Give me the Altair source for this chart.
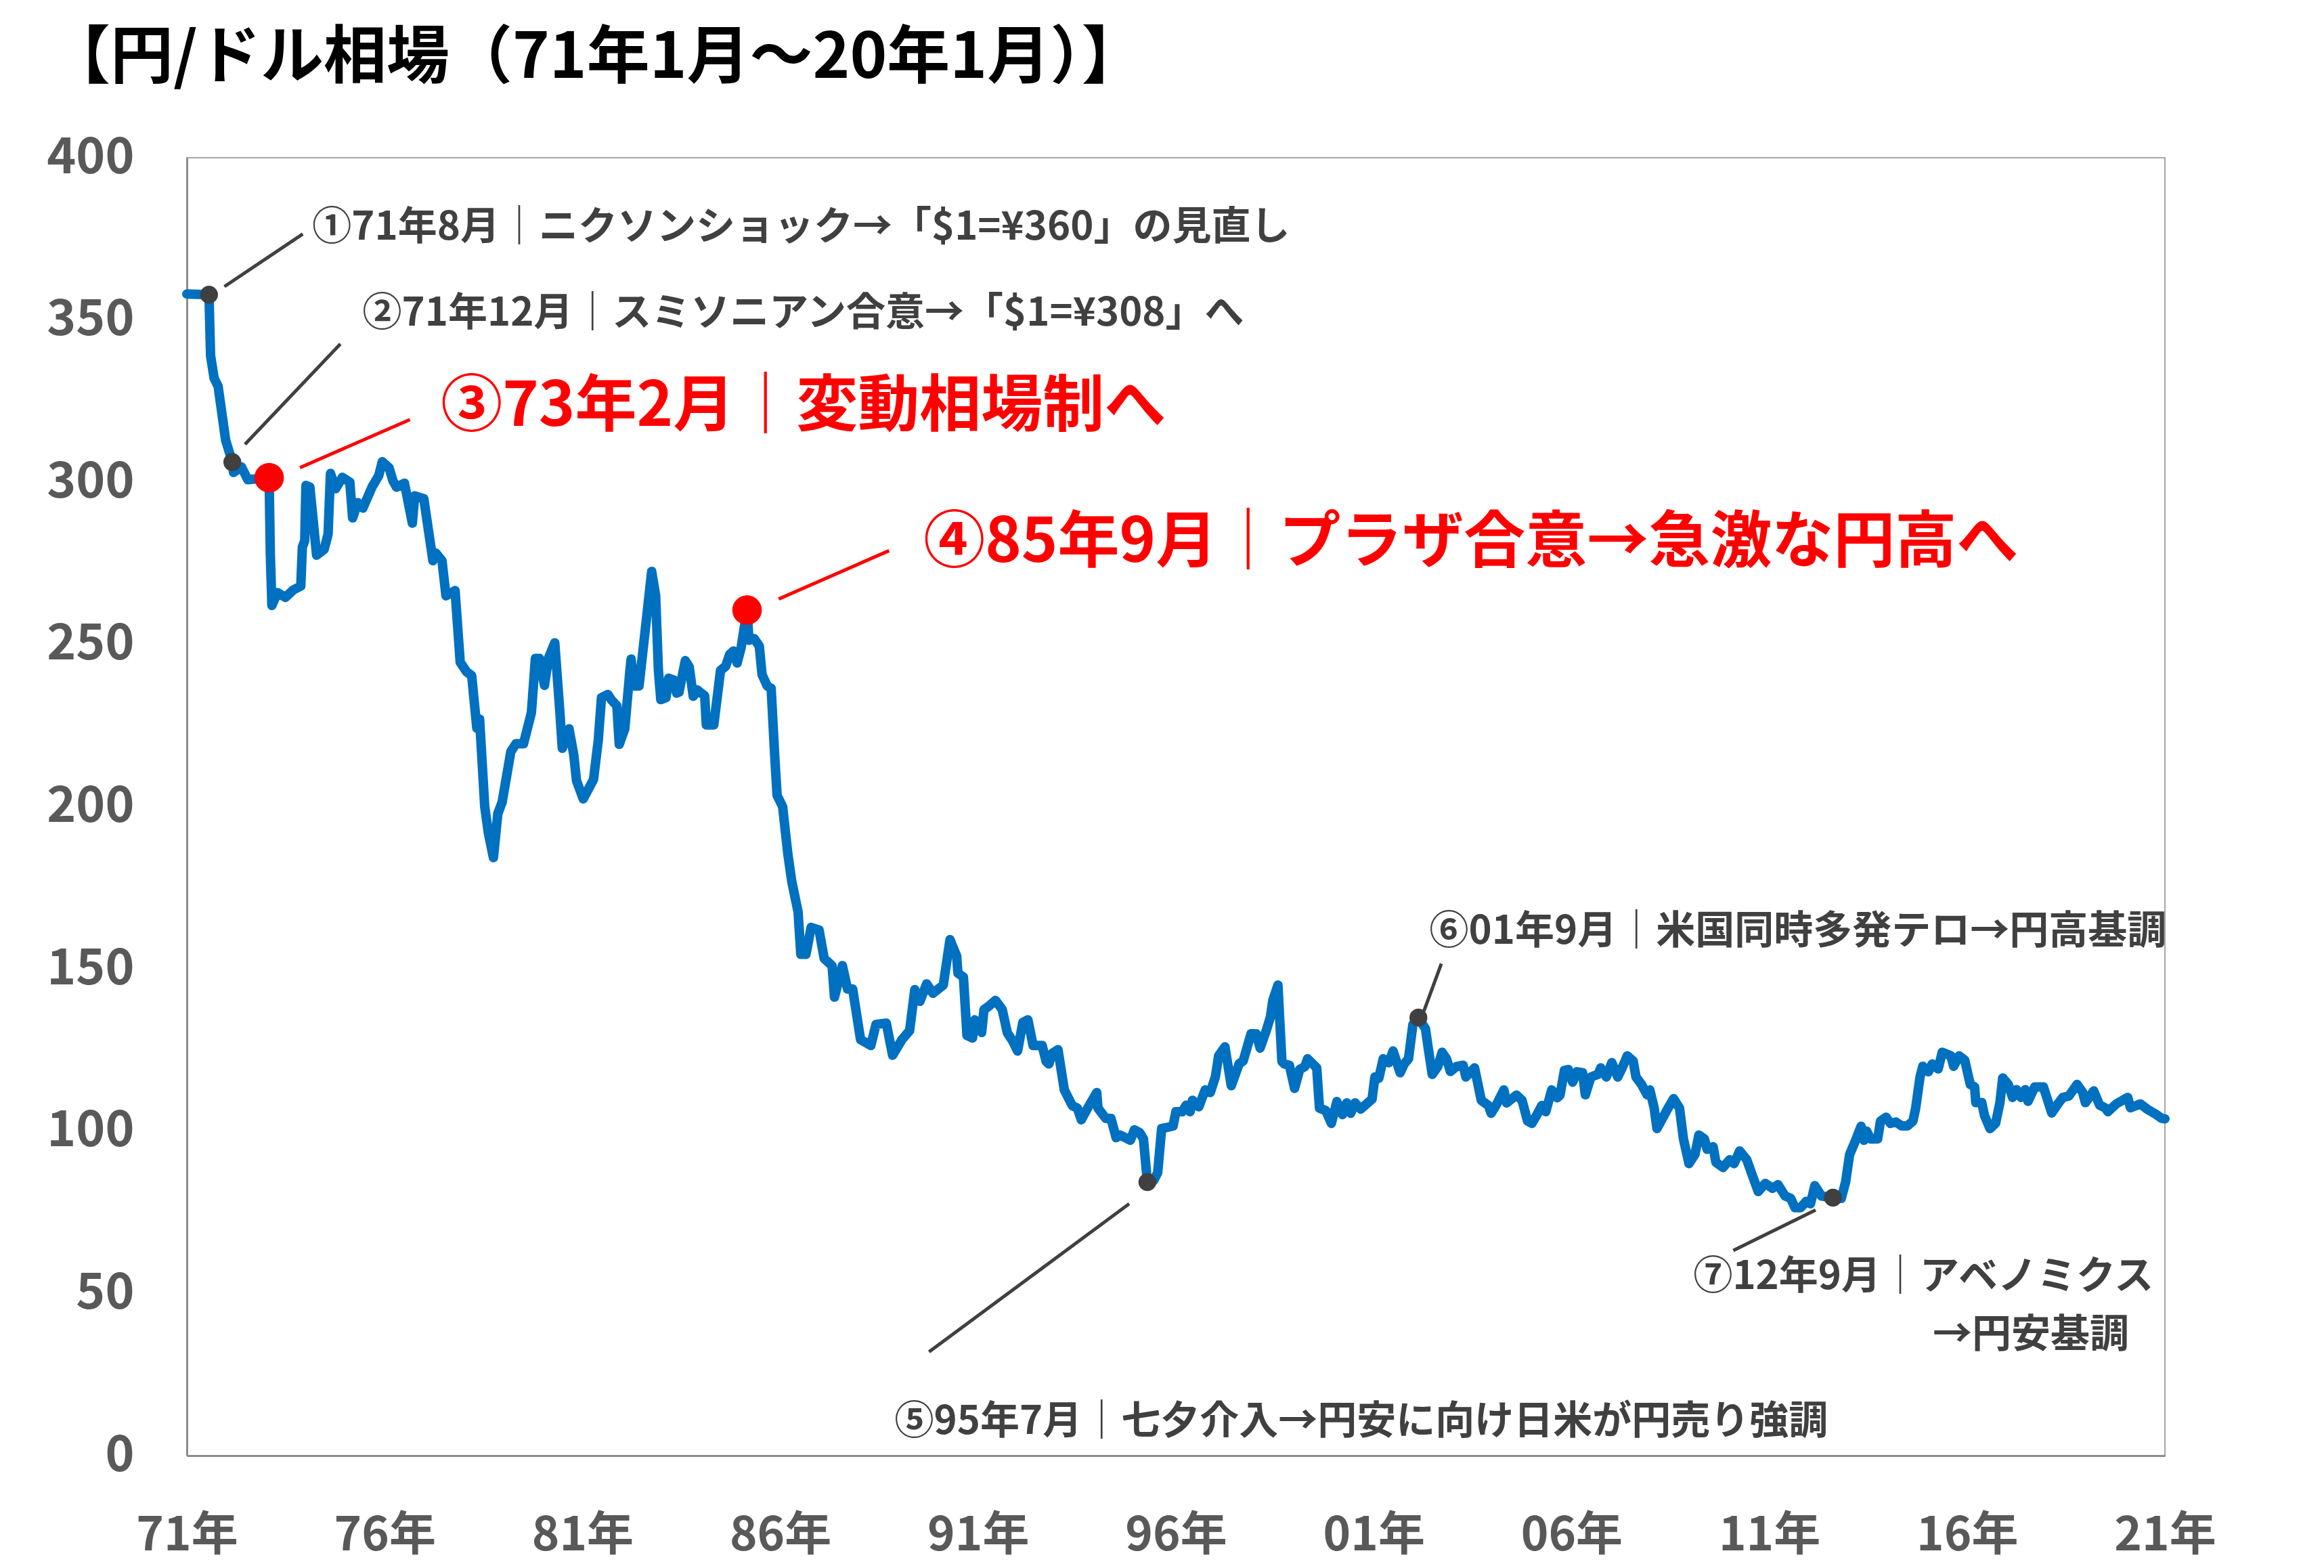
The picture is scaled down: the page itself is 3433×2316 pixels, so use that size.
import altair as alt
import pandas as pd

# ---- monthly-ish USD/JPY values ----
years = [
    1971.00, 1971.56, 1971.60, 1971.69, 1971.79, 1971.98, 1972.15, 1972.18, 1972.38, 1972.54,
    1973.08, 1973.11, 1973.15, 1973.29, 1973.49, 1973.69, 1973.88, 1973.92, 1973.98, 1974.01,
    1974.11, 1974.28, 1974.47, 1974.57, 1974.63, 1974.76, 1974.93, 1975.12, 1975.19, 1975.32,
    1975.45, 1975.68, 1975.85, 1975.94, 1976.11, 1976.21, 1976.30, 1976.50, 1976.70, 1976.76,
    1976.99, 1977.22, 1977.29, 1977.45, 1977.55, 1977.78, 1977.91, 1978.07, 1978.20, 1978.33,
    1978.40, 1978.53, 1978.62, 1978.75, 1978.86, 1978.97, 1979.19, 1979.32, 1979.51, 1979.71,
    1979.81, 1979.91, 1980.04, 1980.14, 1980.30, 1980.43, 1980.49, 1980.66, 1980.78, 1980.85,
    1981.02, 1981.28, 1981.40, 1981.48, 1981.64, 1981.74, 1981.87, 1981.93, 1982.07, 1982.20,
    1982.23, 1982.30, 1982.43, 1982.56, 1982.75, 1982.85, 1982.92, 1982.98, 1983.11, 1983.18,
    1983.31, 1983.38, 1983.44, 1983.60, 1983.70, 1983.80, 1983.90, 1984.00, 1984.09, 1984.13,
    1984.32, 1984.49, 1984.62, 1984.72, 1984.82, 1984.91, 1985.01, 1985.16, 1985.21, 1985.34,
    1985.47, 1985.54, 1985.67, 1985.77, 1985.86, 1985.92, 1986.06, 1986.19, 1986.29, 1986.45,
    1986.52, 1986.65, 1986.78, 1986.98, 1987.11, 1987.31, 1987.37, 1987.57, 1987.70, 1987.83,
    1988.03, 1988.29, 1988.42, 1988.68, 1988.84, 1989.07, 1989.27, 1989.40, 1989.53, 1989.70,
    1989.86, 1990.12, 1990.29, 1990.46, 1990.49, 1990.63, 1990.72, 1990.86, 1990.92, 1991.09,
    1991.15, 1991.25, 1991.44, 1991.61, 1991.74, 1991.87, 1992.00, 1992.13, 1992.26, 1992.39,
    1992.62, 1992.72, 1992.79, 1992.88, 1993.02, 1993.18, 1993.38, 1993.51, 1993.61, 1993.77,
    1994.00, 1994.03, 1994.23, 1994.36, 1994.49, 1994.59, 1994.85, 1994.95, 1995.08, 1995.18,
    1995.28, 1995.44, 1995.54, 1995.64, 1995.80, 1995.93, 1996.00, 1996.16, 1996.26, 1996.36,
    1996.42, 1996.58, 1996.74, 1996.87, 1997.00, 1997.08, 1997.24, 1997.40, 1997.60, 1997.70,
    1997.90, 1998.03, 1998.13, 1998.29, 1998.39, 1998.45, 1998.58, 1998.68, 1998.74, 1998.87,
    1999.00, 1999.13, 1999.26, 1999.33, 1999.56, 1999.63, 1999.79, 1999.93, 2000.07, 2000.21,
    2000.32, 2000.42, 2000.53, 2000.67, 2000.85, 2000.96, 2001.03, 2001.13, 2001.24, 2001.38,
    2001.49, 2001.67, 2001.77, 2001.88, 2001.99, 2002.13, 2002.31, 2002.38, 2002.48, 2002.62,
    2002.73, 2002.84, 2002.94, 2003.09, 2003.26, 2003.33, 2003.55, 2003.72, 2003.90, 2003.97,
    2004.11, 2004.29, 2004.36, 2004.61, 2004.75, 2004.89, 2005.00, 2005.11, 2005.25, 2005.35,
    2005.50, 2005.64, 2005.71, 2005.82, 2005.92, 2006.03, 2006.14, 2006.28, 2006.35, 2006.49,
    2006.67, 2006.74, 2006.88, 2007.02, 2007.17, 2007.27, 2007.41, 2007.56, 2007.63, 2007.77,
    2007.91, 2007.98, 2008.09, 2008.16, 2008.37, 2008.44, 2008.58, 2008.73, 2008.83, 2008.97,
    2009.12, 2009.22, 2009.36, 2009.43, 2009.58, 2009.65, 2009.83, 2010.00, 2010.11, 2010.25,
    2010.43, 2010.57, 2010.72, 2010.90, 2011.08, 2011.22, 2011.40, 2011.54, 2011.65, 2011.79,
    2011.93, 2012.04, 2012.15, 2012.32, 2012.61, 2012.82, 2012.93, 2013.03, 2013.17, 2013.32,
    2013.39, 2013.46, 2013.56, 2013.74, 2013.81, 2013.95, 2014.06, 2014.20, 2014.35, 2014.49,
    2014.63, 2014.70, 2014.81, 2014.88, 2015.02, 2015.12, 2015.27, 2015.37, 2015.59, 2015.66,
    2015.80, 2015.94, 2016.08, 2016.19, 2016.22, 2016.37, 2016.44, 2016.58, 2016.72, 2016.83,
    2016.90, 2017.04, 2017.15, 2017.25, 2017.36, 2017.47, 2017.54, 2017.71, 2017.93, 2018.14,
    2018.32, 2018.42, 2018.57, 2018.78, 2018.92, 2018.99, 2019.20, 2019.35, 2019.49, 2019.56,
    2019.77, 2020.06, 2020.13, 2020.38, 2020.55, 2020.77, 2020.91, 2021.00,
]
rates = [
    358.0, 357.8, 339.0, 332.0, 329.6, 313.0, 306.2, 303.0, 304.7, 300.8,
    301.4, 278.0, 262.0, 266.0, 264.5, 266.8, 268.0, 280.0, 282.0, 299.0,
    298.5, 277.5, 279.3, 284.0, 302.7, 298.0, 301.5, 300.0, 289.0, 293.7,
    292.0, 298.5, 302.0, 306.3, 304.5, 300.4, 298.5, 299.7, 287.4, 295.8,
    294.9, 275.8, 278.2, 275.8, 265.0, 266.6, 244.5, 241.6, 240.4, 224.2,
    227.0, 200.0, 192.0, 184.3, 197.8, 201.4, 217.0, 219.4, 219.4, 229.0,
    245.7, 245.7, 237.4, 245.7, 250.5, 229.0, 218.0, 224.0, 216.0, 208.0,
    202.4, 208.4, 220.5, 233.6, 234.6, 232.8, 231.1, 219.2, 224.0, 242.0,
    245.5, 237.2, 237.2, 251.5, 272.5, 265.0, 242.0, 233.0, 233.6, 239.6,
    239.0, 235.0, 235.3, 245.0, 243.0, 234.0, 236.0, 235.0, 234.2, 225.2,
    225.2, 242.0, 243.3, 246.9, 248.0, 244.3, 249.0, 260.6, 251.3, 251.8,
    249.5, 240.7, 237.2, 236.5, 215.6, 203.5, 200.0, 185.6, 177.0, 167.6,
    154.5, 154.5, 162.8, 162.0, 153.2, 151.0, 141.3, 151.0, 143.8, 143.8,
    128.2, 126.4, 132.9, 133.3, 123.4, 128.1, 131.0, 143.6, 140.0, 145.4,
    142.5, 145.0, 159.0, 153.9, 148.7, 147.5, 129.5, 128.7, 134.3, 130.4,
    137.5, 138.3, 140.3, 137.5, 130.3, 127.9, 124.7, 133.5, 134.3, 126.4,
    126.4, 121.5, 120.7, 124.0, 125.1, 112.7, 107.9, 107.1, 103.5, 107.1,
    111.9, 107.1, 103.9, 103.9, 98.0, 98.8, 97.2, 100.4, 99.6, 97.6,
    84.3, 84.8, 87.2, 100.8, 101.2, 101.6, 106.0, 106.0, 108.0, 106.0,
    109.5, 107.5, 112.7, 111.9, 116.8, 123.2, 126.0, 114.0, 120.8, 121.6,
    130.0, 130.0, 125.6, 131.2, 135.2, 140.3, 145.0, 121.5, 120.7, 120.3,
    113.2, 119.0, 119.9, 122.3, 119.5, 107.1, 106.3, 102.4, 109.1, 105.1,
    108.7, 105.5, 108.7, 106.8, 108.7, 109.9, 116.7, 116.3, 122.3, 121.1,
    124.7, 118.0, 120.7, 122.3, 132.8, 135.0, 131.5, 125.5, 117.5, 119.9,
    124.3, 122.3, 118.4, 119.9, 120.3, 116.7, 119.5, 109.5, 107.9, 105.5,
    108.3, 112.7, 108.7, 111.1, 109.5, 103.1, 102.4, 104.7, 107.9, 106.0,
    112.7, 110.3, 111.1, 118.7, 119.0, 115.1, 118.3, 118.0, 111.2, 116.7,
    117.5, 119.5, 116.7, 121.1, 116.7, 119.2, 123.2, 121.6, 116.7, 114.4,
    111.2, 112.7, 107.1, 100.8, 105.5, 107.1, 110.0, 107.1, 97.6, 90.0,
    92.8, 98.8, 97.6, 94.4, 95.2, 90.4, 88.8, 91.2, 90.0, 93.9,
    91.2, 86.4, 81.4, 83.9, 82.4, 83.5, 80.0, 79.3, 76.4, 76.4,
    78.3, 77.6, 83.2, 80.0, 79.5, 79.3, 84.4, 92.8, 96.8, 101.5,
    97.2, 100.0, 97.6, 97.6, 103.1, 104.3, 102.4, 102.8, 101.6, 101.6,
    103.1, 107.1, 116.7, 120.0, 118.3, 120.7, 119.2, 124.3, 123.2, 120.0,
    123.2, 121.9, 114.4, 113.6, 108.8, 108.8, 104.8, 100.8, 102.4, 108.8,
    116.4, 114.4, 110.4, 112.8, 110.4, 112.8, 109.2, 113.6, 113.6, 105.6,
    108.8, 110.4, 110.8, 114.4, 112.0, 108.8, 112.4, 108.0, 107.2, 106.0,
    108.4, 110.4, 107.2, 108.4, 106.8, 105.2, 104.0, 103.8,
]

# ---- annotated events ----
ev_years = [1971.56, 1972.15, 1973.08, 1985.16, 1995.28, 2002.13, 2012.61]
ev_rates = [357.8, 306.2, 301.4, 260.6, 84.3, 135.0, 79.5]
ev_kind = ["gray", "gray", "red", "red", "gray", "gray", "gray"]

# leader lines (start/end in data units)
lead_x1 = [1971.95, 1972.47, 1973.86, 1985.96, 1989.76, 2002.27, 2010.09]
lead_y1 = [360.3, 311.7, 304.5, 264.0, 32.0, 137.0, 63.2]
lead_x2 = [1973.93, 1974.88, 1976.64, 1988.75, 1994.82, 2002.71, 2012.17]
lead_y2 = [376.5, 342.6, 319.3, 278.9, 77.6, 151.6, 75.7]
lead_kind = ["gray", "gray", "red", "red", "gray", "gray", "gray"]

# labels
gray_labels = [
    "①71年8月｜ニクソンショック→「$1=¥360」の見直し",
    "②71年12月｜スミソニアン合意→「$1=¥308」へ",
    "⑤95年7月｜七夕介入→円安に向け日米が円売り強調",
    "⑥01年9月｜米国同時多発テロ→円高基調",
    "⑦12年9月｜アベノミクス",
    "→円安基調",
]
gray_x = [1974.17, 1975.44, 1988.89, 2002.41, 2009.08, 2015.13]
gray_y = [378.4, 351.9, 10.3, 161.3, 54.8, 37.0]

red_labels = ["③73年2月｜変動相場制へ", "④85年9月｜プラザ合意→急激な円高へ"]
red_x = [1977.42, 1989.62]
red_y = [323.1, 281.1]

tick_years = [1971, 1976, 1981, 1986, 1991, 1996, 2001, 2006, 2011, 2016, 2021]
y_ticks = [0, 50, 100, 150, 200, 250, 300, 350, 400]

FONT = "Noto Sans CJK JP"
GRAY = "#404040"
RED = "#FF0000"
BLUE = "#0070C0"

df = pd.DataFrame({"year": years, "rate": rates})
ev = pd.DataFrame({"year": ev_years, "rate": ev_rates, "kind": ev_kind})
leads = pd.DataFrame({"x": lead_x1, "y": lead_y1, "x2": lead_x2, "y2": lead_y2, "kind": lead_kind})
gl = pd.DataFrame({"x": gray_x, "y": gray_y, "label": gray_labels})
rl = pd.DataFrame({"x": red_x, "y": red_y, "label": red_labels})

xscale = alt.Scale(domain=[1971, 2021], nice=False, zero=False)
yscale = alt.Scale(domain=[0, 400], nice=False)

xaxis = alt.Axis(
    values=tick_years, title=None, grid=False, ticks=False, tickSize=0,
    labelExpr="slice('0' + (datum.value % 100), -2) + '年'",
    labelFont=FONT, labelFontSize=69, labelFontWeight="bold", labelColor="#595959",
    labelPadding=84, labelFlush=False, labelOverlap=False,
    domainColor="#8c8c8c", domainWidth=3,
)
yaxis = alt.Axis(
    values=y_ticks, title=None, grid=False, ticks=False, tickSize=0, format="d",
    labelFont=FONT, labelFontSize=73, labelFontWeight="bold", labelColor="#595959",
    labelPadding=78, labelFlush=False, labelOverlap=False,
    domainColor="#8c8c8c", domainWidth=3,
)

line = alt.Chart(df).mark_line(
    color=BLUE, strokeWidth=14, strokeJoin="round", strokeCap="round"
).encode(
    x=alt.X("year:Q", scale=xscale, axis=xaxis),
    y=alt.Y("rate:Q", scale=yscale, axis=yaxis),
    order="year:Q",
)

rules = alt.Chart(leads).mark_rule(strokeWidth=5).encode(
    x="x:Q", y="y:Q", x2="x2:Q", y2="y2:Q",
    color=alt.Color("kind:N", scale=alt.Scale(domain=["gray", "red"], range=[GRAY, RED]), legend=None),
)

gray_dots = alt.Chart(ev).transform_filter("datum.kind == 'gray'").mark_point(
    filled=True, opacity=1, color=GRAY, size=700
).encode(x="year:Q", y="rate:Q")

red_dots = alt.Chart(ev).transform_filter("datum.kind == 'red'").mark_point(
    filled=True, opacity=1, color=RED, size=1900
).encode(x="year:Q", y="rate:Q")

gray_text = alt.Chart(gl).mark_text(
    align="left", baseline="middle", font=FONT, fontSize=58, fontWeight="bold", color=GRAY
).encode(x="x:Q", y="y:Q", text="label:N")

red_text = alt.Chart(rl).mark_text(
    align="left", baseline="middle", font=FONT, fontSize=91, fontWeight="bold", color=RED
).encode(x="x:Q", y="y:Q", text="label:N")

chart = alt.layer(line, rules, gray_dots, red_dots, gray_text, red_text).properties(
    width=2922,
    height=1917,
    title=alt.TitleParams(
        "【円/ドル相場（71年1月～20年1月）】",
        anchor="start", frame="group", font=FONT, fontSize=93, fontWeight="bold", color="#000000",
        dx=-206, offset=62,
    ),
    autosize=alt.AutoSizeParams(type="none"),
    padding={"left": 276, "top": 233, "right": 235, "bottom": 166},
    background="white",
).configure_view(stroke="#a6a6a6", strokeWidth=2)

chart.save("out.html", embed_options={"renderer": "svg", "actions": False})
